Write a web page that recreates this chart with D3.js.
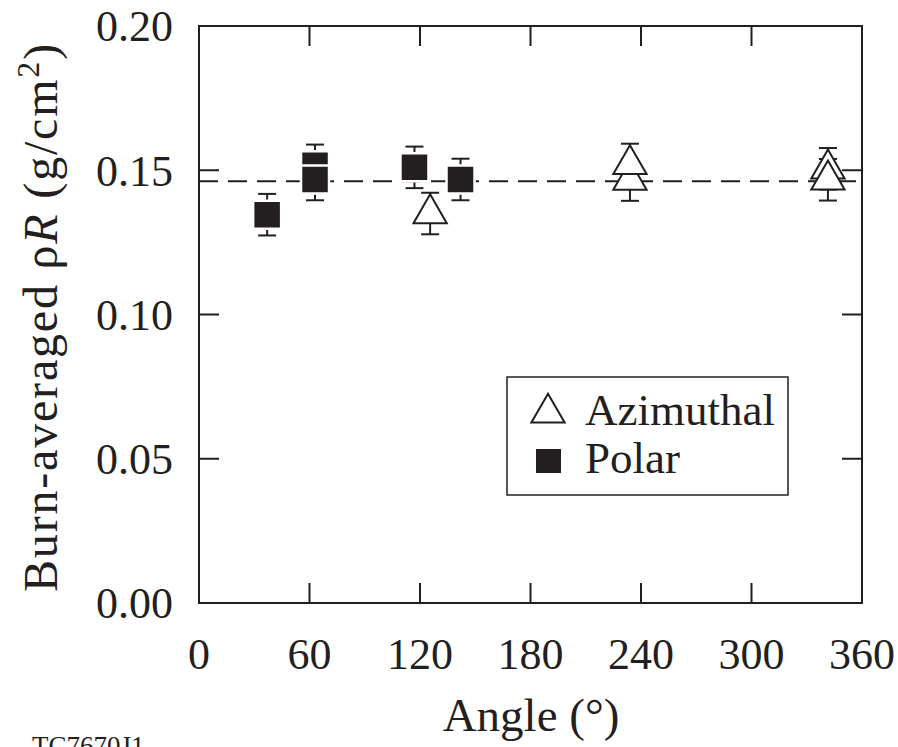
<!DOCTYPE html>
<html lang="en">
<head>
    <meta charset="UTF-8">
    <title>Burn-averaged rhoR vs angle</title>
    <style>
        body { margin: 0; background: #fff; }
        svg text { font-family: "Liberation Serif", "DejaVu Serif", serif; fill: #231f20; }
    </style>
</head>
<body>
    <div id="chart"></div>

    <script src="https://d3js.org/d3.v7.min.js"></script>
    <script>
        // data (angle in degrees, rhoR in g/cm^2)
        const polarAngle = [37, 63, 63, 117, 142]
        const polarValue = [0.1346, 0.1517, 0.1468, 0.1510, 0.1468]
        const azimuthAngle = [125.5, 234, 234, 341.5, 341.5]
        const azimuthValue = [0.1350, 0.1466, 0.1520, 0.1505, 0.1467]
        const errHalf = 0.0072
        const meanValue = 0.1462

        const xTicks = [0, 60, 120, 180, 240, 300, 360]
        const yTicks = [0.00, 0.05, 0.10, 0.15, 0.20]

        const width = 898
        const height = 747
        const margin = { left: 199, right: 36, top: 26, bottom: 144 }
        const ink = '#231f20'

        const x = d3.scaleLinear().domain([0, 360]).range([margin.left, width - margin.right])
        const y = d3.scaleLinear().domain([0, 0.20]).range([height - margin.bottom, margin.top])

        const svg = d3.select('#chart').append('svg')
            .attr('width', width)
            .attr('height', height)

        const x0 = x.range()[0], x1 = x.range()[1]
        const y0 = y.range()[0], y1 = y.range()[1]
        const tickLen = 20

        // ticks on all four sides, pointing inward
        const ticks = svg.append('g').attr('stroke', ink).attr('stroke-width', 2)
        xTicks.slice(1, -1).forEach(t => {
            ticks.append('line').attr('x1', x(t)).attr('x2', x(t)).attr('y1', y0).attr('y2', y0 - tickLen)
            ticks.append('line').attr('x1', x(t)).attr('x2', x(t)).attr('y1', y1).attr('y2', y1 + tickLen)
        })
        yTicks.slice(1, -1).forEach(t => {
            ticks.append('line').attr('x1', x0).attr('x2', x0 + tickLen).attr('y1', y(t)).attr('y2', y(t))
            ticks.append('line').attr('x1', x1).attr('x2', x1 - tickLen).attr('y1', y(t)).attr('y2', y(t))
        })

        // tick labels
        svg.append('g').selectAll('text').data(xTicks).join('text')
            .attr('x', d => x(d))
            .attr('y', 669)
            .attr('text-anchor', 'middle')
            .style('font-size', '44px')
            .text(d => d)
        svg.append('g').selectAll('text').data(yTicks).join('text')
            .attr('x', 173)
            .attr('y', d => y(d))
            .attr('dy', '0.35em')
            .attr('text-anchor', 'end')
            .style('font-size', '44px')
            .text(d => d.toFixed(2))

        // axis titles
        svg.append('text')
            .attr('x', 531).attr('y', 731)
            .attr('text-anchor', 'middle')
            .style('font-size', '47px')
            .text('Angle (°)')

        const ylab = svg.append('text')
            .attr('transform', `translate(57, 317) rotate(-90)`)
            .attr('text-anchor', 'middle')
            .style('font-size', '48px')
        ylab.append('tspan').text('Burn-averaged ρ')
        ylab.append('tspan').style('font-style', 'italic').text('R')
        ylab.append('tspan').text(' (g/cm')
        ylab.append('tspan').attr('dy', -18).style('font-size', '32px').text('2')
        ylab.append('tspan').attr('dy', 18).text(')')
        // stretch the title to the length it has in the picture
        const ylabLen = ylab.node().getComputedTextLength()
        const nChars = ylab.text().length
        ylab.style('letter-spacing', Math.max(0, (550 - ylabLen) / nChars) + 'px')

        svg.append('text')
            .attr('x', 32).attr('y', 755)
            .style('font-size', '27px')
            .text('TC7670J1')

        // mean value dashed line
        svg.append('line')
            .attr('x1', x0).attr('x2', x1)
            .attr('y1', y(meanValue)).attr('y2', y(meanValue))
            .attr('stroke', ink)
            .attr('stroke-width', 2)
            .attr('stroke-dasharray', '19,10')

        const polar = polarAngle.map((a, i) => ({ a: a, v: polarValue[i] }))
        const azimuth = azimuthAngle.map((a, i) => ({ a: a, v: azimuthValue[i] }))

        function drawErr(g, d) {
            const capW = 9
            g.append('line').attr('x1', x(d.a)).attr('x2', x(d.a))
                .attr('y1', y(d.v - errHalf)).attr('y2', y(d.v + errHalf))
            ;[d.v - errHalf, d.v + errHalf].forEach(v => {
                g.append('line').attr('x1', x(d.a) - capW).attr('x2', x(d.a) + capW)
                    .attr('y1', y(v)).attr('y2', y(v))
            })
        }

        const errG = svg.append('g').attr('stroke', ink).attr('stroke-width', 2)
        polar.concat(azimuth).forEach(d => drawErr(errG, d))

        const square = d3.symbol().type(d3.symbolSquare).size(28 * 28)
        const triangle = d3.symbol().type(d3.symbolTriangle).size(480)

        svg.append('g').selectAll('path').data(polar).join('path')
            .attr('transform', d => `translate(${x(d.a)}, ${y(d.v)})`)
            .attr('d', square)
            .attr('fill', ink)
            .attr('stroke', '#fff')
            .attr('stroke-width', 2.5)

        svg.append('g').selectAll('path').data(azimuth).join('path')
            .attr('transform', d => `translate(${x(d.a)}, ${y(d.v)})`)
            .attr('d', triangle)
            .attr('fill', '#fff')
            .attr('stroke', ink)
            .attr('stroke-width', 2)

        // frame
        svg.append('rect')
            .attr('x', x0).attr('y', y1)
            .attr('width', x1 - x0).attr('height', y0 - y1)
            .attr('fill', 'none')
            .attr('stroke', ink)
            .attr('stroke-width', 2)

        // legend
        const lg = svg.append('g')
        lg.append('rect')
            .attr('x', 507).attr('y', 377).attr('width', 281).attr('height', 118)
            .attr('fill', '#fff').attr('stroke', ink).attr('stroke-width', 1.5)
        lg.append('path')
            .attr('transform', 'translate(548, 413)')
            .attr('d', triangle)
            .attr('fill', '#fff').attr('stroke', ink).attr('stroke-width', 2)
        lg.append('text').attr('x', 585).attr('y', 425).style('font-size', '45px').text('Azimuthal')
        lg.append('rect')
            .attr('x', 536).attr('y', 449).attr('width', 25).attr('height', 24)
            .attr('fill', ink)
        lg.append('text').attr('x', 585).attr('y', 473).style('font-size', '45px').text('Polar')
    </script>
</body>
</html>
